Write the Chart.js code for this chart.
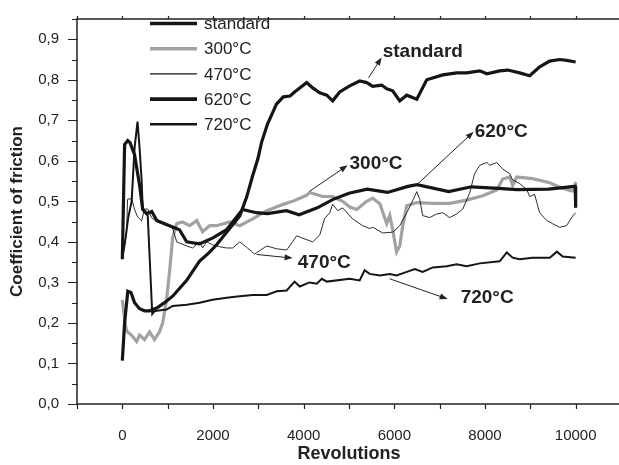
<!DOCTYPE html>
<html>
<head>
<meta charset="utf-8">
<script src="https://cdn.jsdelivr.net/npm/chart.js@4/dist/chart.umd.min.js"></script>
<style>
  html, body { margin: 0; padding: 0; background: #fff; overflow: hidden; }
  #wrap { width: 619px; height: 465px; overflow: hidden; }
</style>
</head>
<body>
<div id="wrap"><canvas id="cof" width="624" height="465"></canvas></div>
<script>
// values (revolutions, coefficient of friction)
var seriesNames = ['standard', '300°C', '470°C', '620°C', '720°C'];

var standardRev = [0,50,120,190,270,380,490,600,760,930,1110,1420,1700,1920,2080,2300,2590,2740,2880,2990,3070,3200,3400,3550,3700,3800,3913,4065,4200,4353,4508,4640,4795,5016,5235,5391,5523,5721,5832,5964,6120,6274,6495,6715,7068,7377,7597,7885,8040,8324,8500,8765,8986,9207,9427,9648,9802,10000];
var standardCof = [0.107,0.2,0.278,0.275,0.25,0.235,0.23,0.23,0.237,0.25,0.266,0.305,0.352,0.374,0.393,0.424,0.464,0.51,0.565,0.605,0.645,0.69,0.74,0.758,0.76,0.77,0.78,0.793,0.78,0.768,0.762,0.748,0.77,0.785,0.797,0.793,0.784,0.787,0.778,0.773,0.748,0.762,0.752,0.8,0.812,0.817,0.817,0.822,0.815,0.822,0.824,0.817,0.81,0.832,0.846,0.85,0.848,0.844];

var c300Rev = [0,60,95,200,315,380,490,600,710,820,890,975,1045,1110,1200,1330,1485,1640,1770,1925,2080,2365,2590,2875,3185,3535,3755,4065,4130,4420,4640,4860,5016,5170,5391,5523,5680,5832,5900,5964,6050,6120,6185,6274,6495,6850,7221,7597,7950,8260,8390,8545,8610,8700,9050,9427,9648,9868,9960,10000];
var c300Cof = [0.257,0.2,0.18,0.17,0.154,0.17,0.159,0.178,0.159,0.178,0.2,0.257,0.33,0.41,0.445,0.449,0.44,0.453,0.425,0.44,0.44,0.449,0.44,0.457,0.477,0.492,0.5,0.515,0.522,0.512,0.512,0.5,0.486,0.48,0.5,0.508,0.494,0.445,0.465,0.43,0.375,0.39,0.44,0.489,0.497,0.495,0.495,0.503,0.514,0.528,0.555,0.56,0.54,0.56,0.556,0.546,0.535,0.527,0.525,0.548];

var c470Rev = [0,95,115,205,270,335,425,490,560,645,757,975,1090,1200,1420,1550,1705,1770,1860,1990,2145,2300,2435,2590,2740,2920,3185,3405,3625,3755,3845,3980,4200,4355,4460,4575,4640,4750,4860,5080,5300,5455,5525,5745,5965,6120,6275,6385,6495,6560,6625,6780,6935,7070,7220,7375,7510,7660,7770,7885,8040,8105,8260,8390,8545,8610,8765,8920,8985,9095,9205,9360,9490,9645,9800,9935,10000];
var c470Cof = [0.36,0.424,0.505,0.507,0.48,0.462,0.452,0.481,0.481,0.46,0.45,0.44,0.44,0.40,0.39,0.385,0.40,0.385,0.40,0.393,0.388,0.385,0.385,0.40,0.387,0.37,0.39,0.383,0.38,0.40,0.415,0.409,0.40,0.417,0.457,0.472,0.493,0.477,0.484,0.457,0.44,0.433,0.436,0.422,0.424,0.44,0.472,0.497,0.524,0.505,0.465,0.46,0.469,0.472,0.46,0.469,0.481,0.52,0.568,0.589,0.596,0.589,0.596,0.58,0.568,0.553,0.544,0.529,0.512,0.517,0.472,0.453,0.445,0.436,0.44,0.464,0.472];

var c620Rev = [0,50,120,170,270,380,450,540,650,760,1040,1260,1420,1700,2000,2300,2650,2960,3200,3620,3900,4130,4300,4650,5000,5400,5850,6300,6500,7200,7700,8300,8700,9400,9990,10000];
var c620Cof = [0.357,0.64,0.65,0.645,0.615,0.54,0.48,0.47,0.475,0.453,0.44,0.43,0.40,0.395,0.41,0.43,0.48,0.472,0.47,0.477,0.467,0.477,0.484,0.505,0.52,0.53,0.522,0.537,0.541,0.524,0.536,0.532,0.529,0.53,0.537,0.484];

var c720Rev = [0,60,130,205,270,335,380,425,450,520,560,660,700,757,975,1110,1420,1705,1990,2300,2590,2875,3185,3405,3625,3800,3913,4130,4290,4400,4510,5015,5235,5345,5455,5680,5900,6050,6275,6450,6625,6850,7155,7375,7595,7885,8325,8480,8610,8765,9050,9430,9585,9715,10000];
var c720Cof = [0.36,0.40,0.46,0.5,0.632,0.697,0.632,0.553,0.48,0.47,0.465,0.222,0.228,0.23,0.233,0.242,0.245,0.25,0.257,0.262,0.266,0.269,0.269,0.278,0.28,0.302,0.29,0.3,0.297,0.309,0.302,0.309,0.305,0.33,0.321,0.317,0.321,0.317,0.326,0.333,0.326,0.337,0.34,0.345,0.34,0.347,0.352,0.374,0.361,0.357,0.361,0.361,0.376,0.364,0.361];

var xTickValues = [0, 2000, 4000, 6000, 8000, 10000];
var yTickValues = [0, 0.1, 0.2, 0.3, 0.4, 0.5, 0.6, 0.7, 0.8, 0.9];

// labels with arrows, in data coordinates
var notes = [
    { text: 'standard', from: [5433, 0.805], to: [5720, 0.855], at: [5743, 0.872] },
    { text: '300°C', from: [4132, 0.525], to: [4970, 0.589], at: [5012, 0.596] },
    { text: '620°C', from: [6514, 0.543], to: [7750, 0.672], at: [7773, 0.675] },
    { text: '470°C', from: [2963, 0.369], to: [3757, 0.360], at: [3870, 0.352] },
    { text: '720°C', from: [5897, 0.309], to: [7176, 0.259], at: [7463, 0.264] }
];

var FONT = "'Liberation Sans', Arial, Helvetica, sans-serif";

function points(xs, ys) {
    return xs.map(function (x, i) { return { x: x, y: ys[i] }; });
}

var frame = {
    id: 'frame',
    afterDraw: function (chart) {
        var ctx = chart.ctx, a = chart.chartArea;
        var xs = chart.scales.x, ys = chart.scales.y;
        ctx.save();
        ctx.strokeStyle = '#222';
        ctx.lineWidth = 1.5;
        ctx.strokeRect(a.left, a.top, a.right - a.left, a.bottom - a.top);
        ctx.lineWidth = 1.2;
        ctx.beginPath();
        for (var v = -1000; v <= 11000; v += 1000) {
            var px = Math.round(xs.getPixelForValue(v)) + 0.5;
            ctx.moveTo(px, a.bottom); ctx.lineTo(px, a.bottom + 5);
            ctx.moveTo(px, a.top); ctx.lineTo(px, a.top - 3);
        }
        for (var i = 0; i <= 19; i++) {
            var py = Math.round(ys.getPixelForValue(i * 0.05)) + 0.5;
            var len = i % 2 === 0 ? 9 : 5;
            ctx.moveTo(a.left, py); ctx.lineTo(a.left - len, py);
        }
        ctx.stroke();

        // legend
        chart.data.datasets.forEach(function (ds, k) {
            var y = 23.5 + k * 25.2;
            ctx.strokeStyle = ds.borderColor;
            ctx.lineWidth = ds.borderWidth + 0.4;
            ctx.beginPath(); ctx.moveTo(150, y); ctx.lineTo(197, y); ctx.stroke();
            ctx.fillStyle = '#222';
            ctx.font = '17px ' + FONT;
            ctx.textAlign = 'left';
            ctx.textBaseline = 'middle';
            ctx.fillText(ds.label, 204, y + 1);
        });

        // annotations
        notes.forEach(function (n) {
            var x1 = xs.getPixelForValue(n.from[0]), y1 = ys.getPixelForValue(n.from[1]);
            var x2 = xs.getPixelForValue(n.to[0]), y2 = ys.getPixelForValue(n.to[1]);
            var ang = Math.atan2(y2 - y1, x2 - x1);
            ctx.strokeStyle = '#222';
            ctx.fillStyle = '#222';
            ctx.lineWidth = 1;
            ctx.beginPath(); ctx.moveTo(x1, y1);
            ctx.lineTo(x2 - 6 * Math.cos(ang), y2 - 6 * Math.sin(ang)); ctx.stroke();
            ctx.beginPath();
            ctx.moveTo(x2, y2);
            ctx.lineTo(x2 - 8 * Math.cos(ang) + 3 * Math.sin(ang), y2 - 8 * Math.sin(ang) - 3 * Math.cos(ang));
            ctx.lineTo(x2 - 8 * Math.cos(ang) - 3 * Math.sin(ang), y2 - 8 * Math.sin(ang) + 3 * Math.cos(ang));
            ctx.closePath(); ctx.fill();
            ctx.font = 'bold 19px ' + FONT;
            ctx.textAlign = 'left';
            ctx.textBaseline = 'middle';
            ctx.fillText(n.text, xs.getPixelForValue(n.at[0]), ys.getPixelForValue(n.at[1]) + 1);
        });
        ctx.restore();
    }
};

var ctx = document.getElementById('cof').getContext('2d');
var cofChart = new Chart(ctx, {
    type: 'line',
    data: {
        datasets: [
            { label: seriesNames[0], data: points(standardRev, standardCof), borderColor: '#151515', borderWidth: 3.2, order: 1 },
            { label: seriesNames[1], data: points(c300Rev, c300Cof), borderColor: '#a2a2a2', borderWidth: 3.2, order: 5 },
            { label: seriesNames[2], data: points(c470Rev, c470Cof), borderColor: '#151515', borderWidth: 0.9, order: 4 },
            { label: seriesNames[3], data: points(c620Rev, c620Cof), borderColor: '#151515', borderWidth: 3.2, order: 2 },
            { label: seriesNames[4], data: points(c720Rev, c720Cof), borderColor: '#151515', borderWidth: 2, order: 3 }
        ]
    },
    options: {
        responsive: false,
        animation: false,
        layout: { padding: { top: 7, right: 3, left: 0, bottom: 0 } },
        elements: { point: { radius: 0 }, line: { tension: 0, fill: false } },
        plugins: { legend: { display: false }, tooltip: { enabled: false } },
        scales: {
            x: {
                type: 'linear', min: -1000, max: 11000,
                afterFit: function (s) { s.height = 61; },
                afterBuildTicks: function (s) { s.ticks = xTickValues.map(function (v) { return { value: v }; }); },
                grid: { display: false }, border: { display: false },
                ticks: { color: '#222', font: { family: FONT, size: 15 }, padding: 15, maxRotation: 0,
                    callback: function (v) { return String(v); } },
                title: { display: true, text: 'Revolutions', color: '#222',
                    font: { family: FONT, size: 18, weight: 'bold' }, padding: 0 }
            },
            y: {
                type: 'linear', min: 0, max: 0.95,
                afterFit: function (s) { s.width = 77; },
                afterBuildTicks: function (s) { s.ticks = yTickValues.map(function (v) { return { value: v }; }); },
                grid: { display: false }, border: { display: false },
                ticks: { color: '#222', font: { family: FONT, size: 15 }, padding: 10,
                    callback: function (v) { return v.toFixed(1).replace('.', ','); } },
                title: { display: true, text: 'Coefficient of friction', color: '#222',
                    font: { family: FONT, size: 17, weight: 'bold' }, padding: { top: 7, bottom: 0 } }
            }
        }
    },
    plugins: [frame]
});
</script>
</body>
</html>
